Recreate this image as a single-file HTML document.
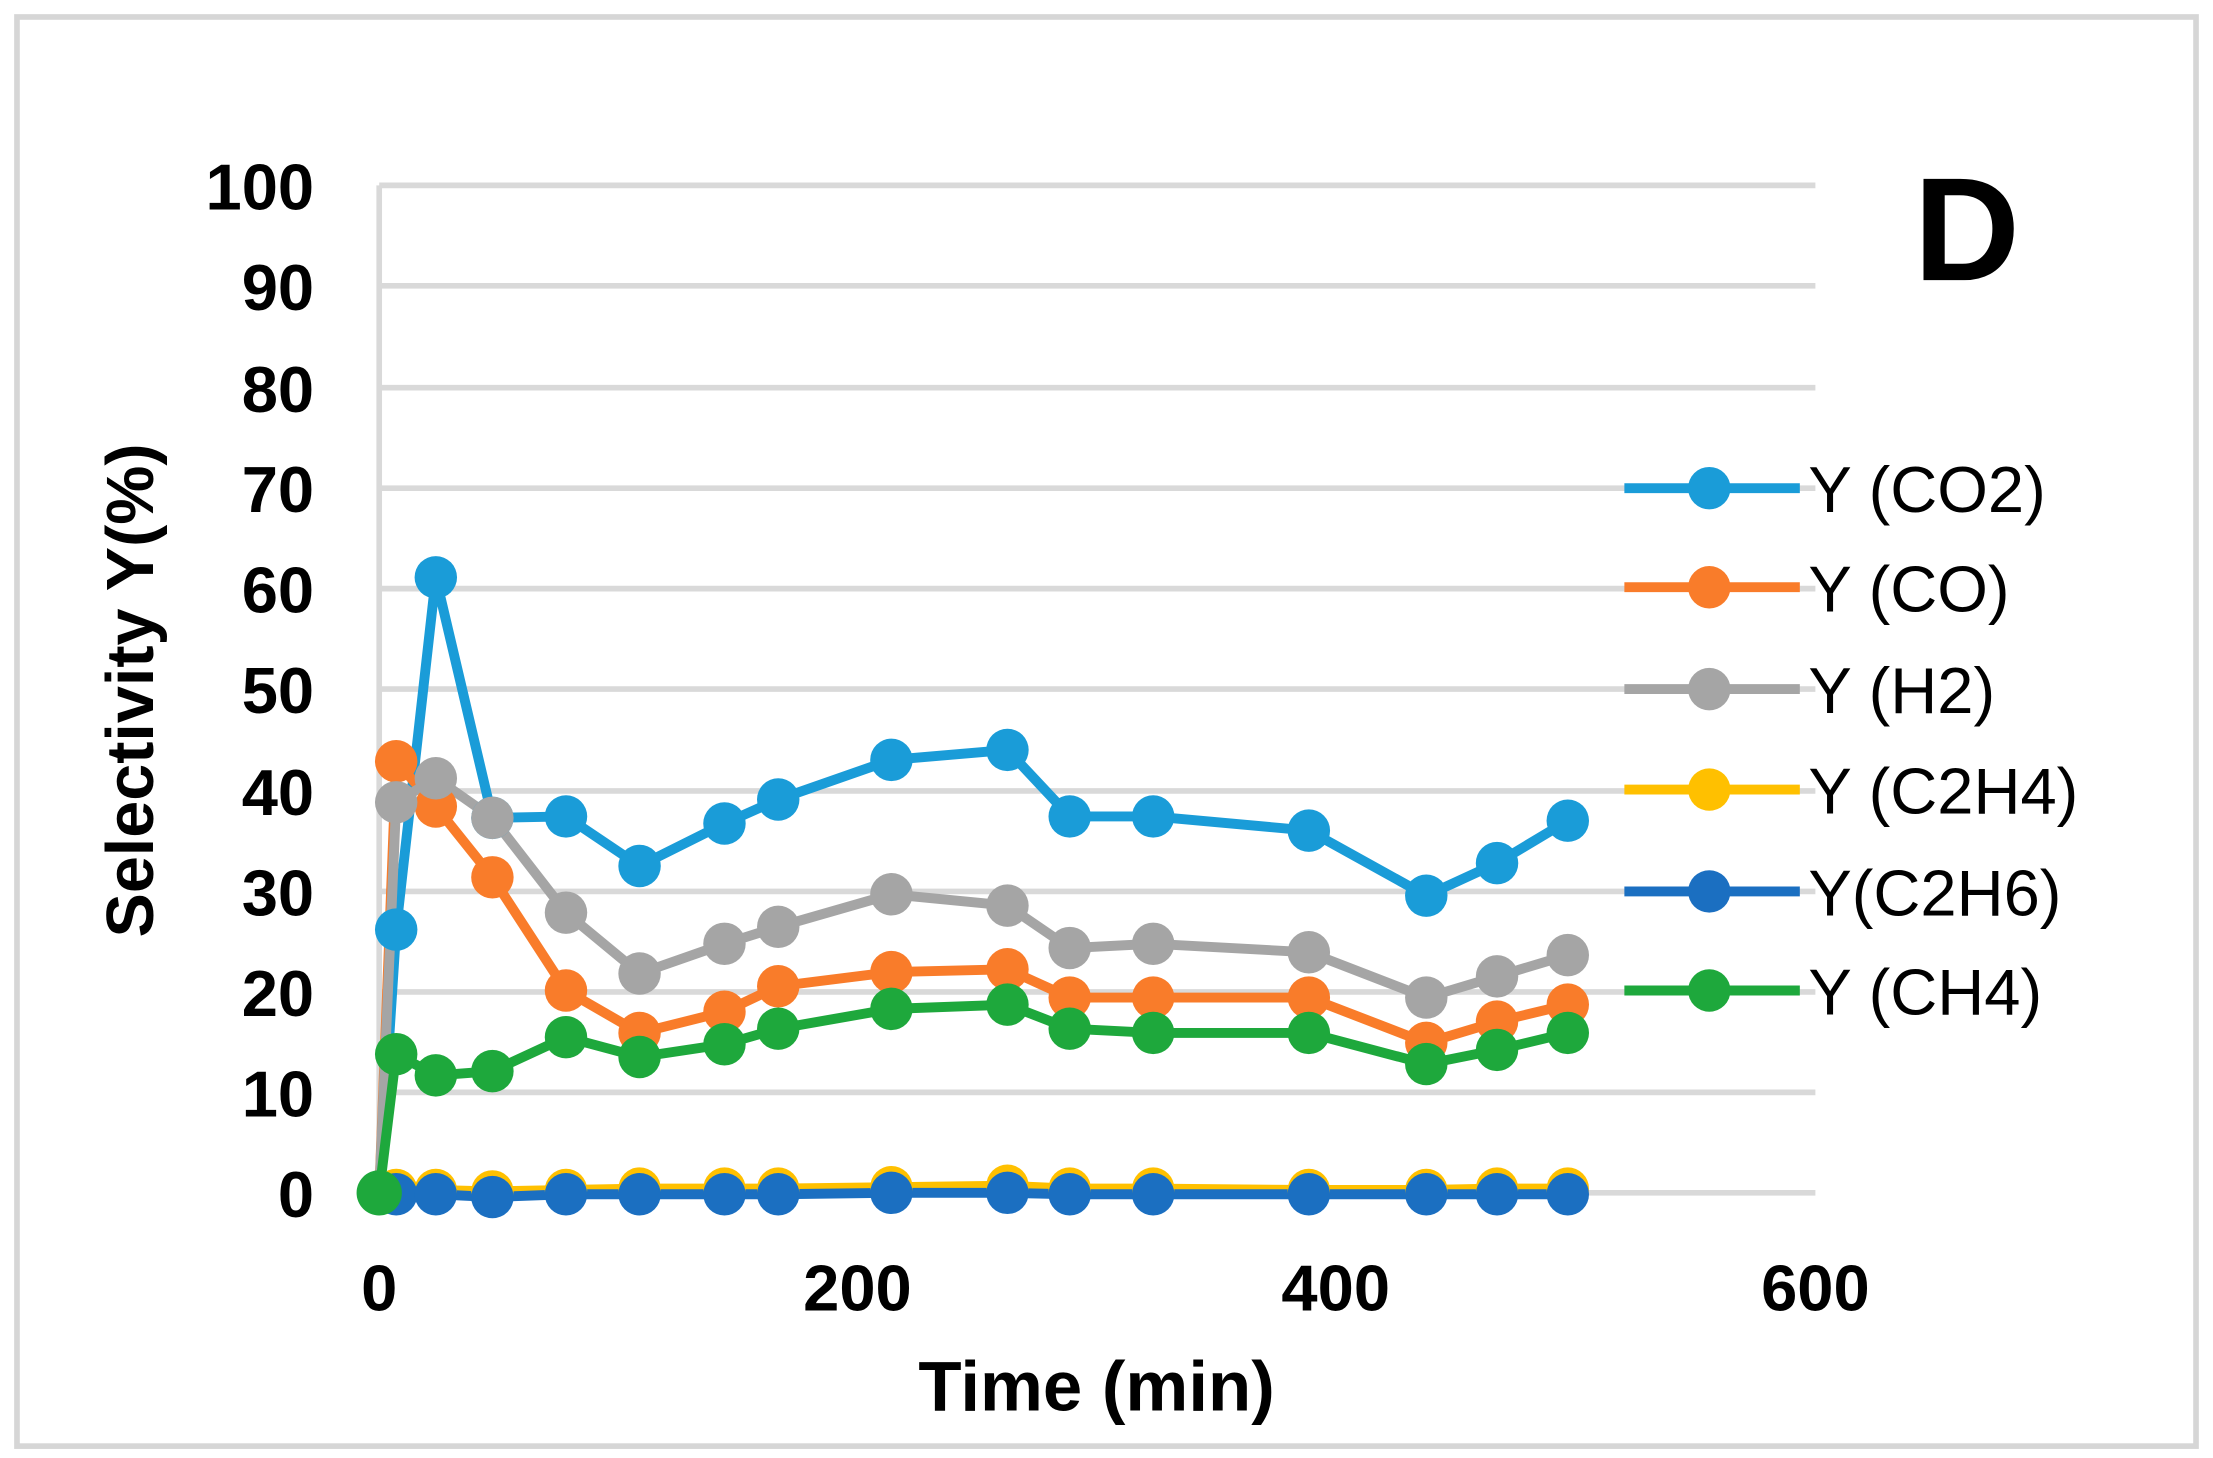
<!DOCTYPE html>
<html><head><meta charset="utf-8"><style>
html,body{margin:0;padding:0;background:#fff;}
svg{display:block;}
text{font-family:"Liberation Sans",Arial,sans-serif;fill:#000;}
</style></head><body>
<svg width="2213" height="1458" viewBox="0 0 1564 1030.4" preserveAspectRatio="none" xmlns="http://www.w3.org/2000/svg">
<rect x="0" y="0" width="1564" height="1031" fill="#fff"/>
<rect x="12" y="12" width="1540" height="1010" fill="none" stroke="#d6d6d6" stroke-width="4"/>
<g stroke="#d9d9d9" stroke-width="4">
<line x1="268" y1="131" x2="1283" y2="131"/>
<line x1="268" y1="202" x2="1283" y2="202"/>
<line x1="268" y1="274" x2="1283" y2="274"/>
<line x1="268" y1="345" x2="1283" y2="345"/>
<line x1="268" y1="416" x2="1283" y2="416"/>
<line x1="268" y1="487" x2="1283" y2="487"/>
<line x1="268" y1="559" x2="1283" y2="559"/>
<line x1="268" y1="630" x2="1283" y2="630"/>
<line x1="268" y1="701" x2="1283" y2="701"/>
<line x1="268" y1="772" x2="1283" y2="772"/>
<line x1="268" y1="843" x2="1283" y2="843"/>
<line x1="268" y1="131" x2="268" y2="843"/>
</g>
<g font-size="46" font-weight="bold" text-anchor="end">
<text x="222" y="148">100</text><text x="222" y="219">90</text><text x="222" y="291">80</text>
<text x="222" y="362">70</text><text x="222" y="433">60</text><text x="222" y="504">50</text>
<text x="222" y="576">40</text><text x="222" y="647">30</text><text x="222" y="718">20</text>
<text x="222" y="789">10</text><text x="222" y="860">0</text>
</g>
<g font-size="46" font-weight="bold" text-anchor="middle">
<text x="268" y="926">0</text><text x="606" y="926">200</text><text x="944" y="926">400</text><text x="1283" y="926">600</text>
<text x="775" y="997" font-size="50">Time (min)</text>
<text transform="translate(108,488) rotate(-90)" font-size="47">Selectivity Y(%)</text>
</g>
<text x="1390" y="198" font-size="104" font-weight="bold" text-anchor="middle">D</text>
<g fill="none" stroke-width="7" stroke-linejoin="round">
<polyline stroke="#1a9cd8" points="268,843 280,657 308,408 348,578 400,577 452,612 512,582 550,565 630,537 712,530 756,577 815,577 925,587 1008,633 1058,610 1108,580"/>
<polyline stroke="#f97c2a" points="268,843 280,538 308,570 348,620 400,700 452,730 512,715 550,697 630,687 712,685 756,705 815,705 925,705 1008,737 1058,722 1108,710"/>
<polyline stroke="#a5a5a5" points="268,843 280,567 308,550 348,578 400,645 452,688 512,667 550,655 630,632 712,640 756,670 815,667 925,673 1008,705 1058,690 1108,675"/>
<polyline stroke="#ffc000" points="268,843 280,841 308,841 348,842 400,841 452,840 512,840 550,840 630,839 712,838 756,840 815,840 925,841 1008,841 1058,840 1108,840"/>
<polyline stroke="#1b6fc1" points="268,843 280,844 308,844 348,846 400,844 452,844 512,844 550,844 630,843 712,843 756,844 815,844 925,844 1008,844 1058,844 1108,844"/>
<polyline stroke="#1ea83c" points="268,843 280,745 308,760 348,757 400,733 452,747 512,738 550,727 630,713 712,710 756,727 815,730 925,730 1008,752 1058,742 1108,730"/>
</g>
<g fill="#1a9cd8"><circle cx="280" cy="657" r="15"/><circle cx="308" cy="408" r="15"/><circle cx="348" cy="578" r="15"/><circle cx="400" cy="577" r="15"/><circle cx="452" cy="612" r="15"/><circle cx="512" cy="582" r="15"/><circle cx="550" cy="565" r="15"/><circle cx="630" cy="537" r="15"/><circle cx="712" cy="530" r="15"/><circle cx="756" cy="577" r="15"/><circle cx="815" cy="577" r="15"/><circle cx="925" cy="587" r="15"/><circle cx="1008" cy="633" r="15"/><circle cx="1058" cy="610" r="15"/><circle cx="1108" cy="580" r="15"/></g>
<g fill="#f97c2a"><circle cx="280" cy="538" r="15"/><circle cx="308" cy="570" r="15"/><circle cx="348" cy="620" r="15"/><circle cx="400" cy="700" r="15"/><circle cx="452" cy="730" r="15"/><circle cx="512" cy="715" r="15"/><circle cx="550" cy="697" r="15"/><circle cx="630" cy="687" r="15"/><circle cx="712" cy="685" r="15"/><circle cx="756" cy="705" r="15"/><circle cx="815" cy="705" r="15"/><circle cx="925" cy="705" r="15"/><circle cx="1008" cy="737" r="15"/><circle cx="1058" cy="722" r="15"/><circle cx="1108" cy="710" r="15"/></g>
<g fill="#a5a5a5"><circle cx="280" cy="567" r="15"/><circle cx="308" cy="550" r="15"/><circle cx="348" cy="578" r="15"/><circle cx="400" cy="645" r="15"/><circle cx="452" cy="688" r="15"/><circle cx="512" cy="667" r="15"/><circle cx="550" cy="655" r="15"/><circle cx="630" cy="632" r="15"/><circle cx="712" cy="640" r="15"/><circle cx="756" cy="670" r="15"/><circle cx="815" cy="667" r="15"/><circle cx="925" cy="673" r="15"/><circle cx="1008" cy="705" r="15"/><circle cx="1058" cy="690" r="15"/><circle cx="1108" cy="675" r="15"/></g>
<g fill="#ffc000"><circle cx="280" cy="841" r="15"/><circle cx="308" cy="841" r="15"/><circle cx="348" cy="842" r="15"/><circle cx="400" cy="841" r="15"/><circle cx="452" cy="840" r="15"/><circle cx="512" cy="840" r="15"/><circle cx="550" cy="840" r="15"/><circle cx="630" cy="839" r="15"/><circle cx="712" cy="838" r="15"/><circle cx="756" cy="840" r="15"/><circle cx="815" cy="840" r="15"/><circle cx="925" cy="841" r="15"/><circle cx="1008" cy="841" r="15"/><circle cx="1058" cy="840" r="15"/><circle cx="1108" cy="840" r="15"/></g>
<g fill="#1b6fc1"><circle cx="280" cy="844" r="15"/><circle cx="308" cy="844" r="15"/><circle cx="348" cy="846" r="15"/><circle cx="400" cy="844" r="15"/><circle cx="452" cy="844" r="15"/><circle cx="512" cy="844" r="15"/><circle cx="550" cy="844" r="15"/><circle cx="630" cy="843" r="15"/><circle cx="712" cy="843" r="15"/><circle cx="756" cy="844" r="15"/><circle cx="815" cy="844" r="15"/><circle cx="925" cy="844" r="15"/><circle cx="1008" cy="844" r="15"/><circle cx="1058" cy="844" r="15"/><circle cx="1108" cy="844" r="15"/></g>
<g fill="#1ea83c"><circle cx="268" cy="843" r="16"/><circle cx="280" cy="745" r="15"/><circle cx="308" cy="760" r="15"/><circle cx="348" cy="757" r="15"/><circle cx="400" cy="733" r="15"/><circle cx="452" cy="747" r="15"/><circle cx="512" cy="738" r="15"/><circle cx="550" cy="727" r="15"/><circle cx="630" cy="713" r="15"/><circle cx="712" cy="710" r="15"/><circle cx="756" cy="727" r="15"/><circle cx="815" cy="730" r="15"/><circle cx="925" cy="730" r="15"/><circle cx="1008" cy="752" r="15"/><circle cx="1058" cy="742" r="15"/><circle cx="1108" cy="730" r="15"/></g>
<g stroke-width="7">
<line x1="1148" y1="345" x2="1272" y2="345" stroke="#1a9cd8"/><circle cx="1208" cy="345" r="15" fill="#1a9cd8"/>
<line x1="1148" y1="415" x2="1272" y2="415" stroke="#f97c2a"/><circle cx="1208" cy="415" r="15" fill="#f97c2a"/>
<line x1="1148" y1="487" x2="1272" y2="487" stroke="#a5a5a5"/><circle cx="1208" cy="487" r="15" fill="#a5a5a5"/>
<line x1="1148" y1="558" x2="1272" y2="558" stroke="#ffc000"/><circle cx="1208" cy="558" r="15" fill="#ffc000"/>
<line x1="1148" y1="630" x2="1272" y2="630" stroke="#1b6fc1"/><circle cx="1208" cy="630" r="15" fill="#1b6fc1"/>
<line x1="1148" y1="700" x2="1272" y2="700" stroke="#1ea83c"/><circle cx="1208" cy="700" r="15" fill="#1ea83c"/>
</g>
<g font-size="46">
<text x="1278" y="362">Y (CO2)</text>
<text x="1278" y="432">Y (CO)</text>
<text x="1278" y="504">Y (H2)</text>
<text x="1278" y="575">Y (C2H4)</text>
<text x="1278" y="647">Y(C2H6)</text>
<text x="1278" y="717">Y (CH4)</text>
</g>
</svg>
</body></html>
